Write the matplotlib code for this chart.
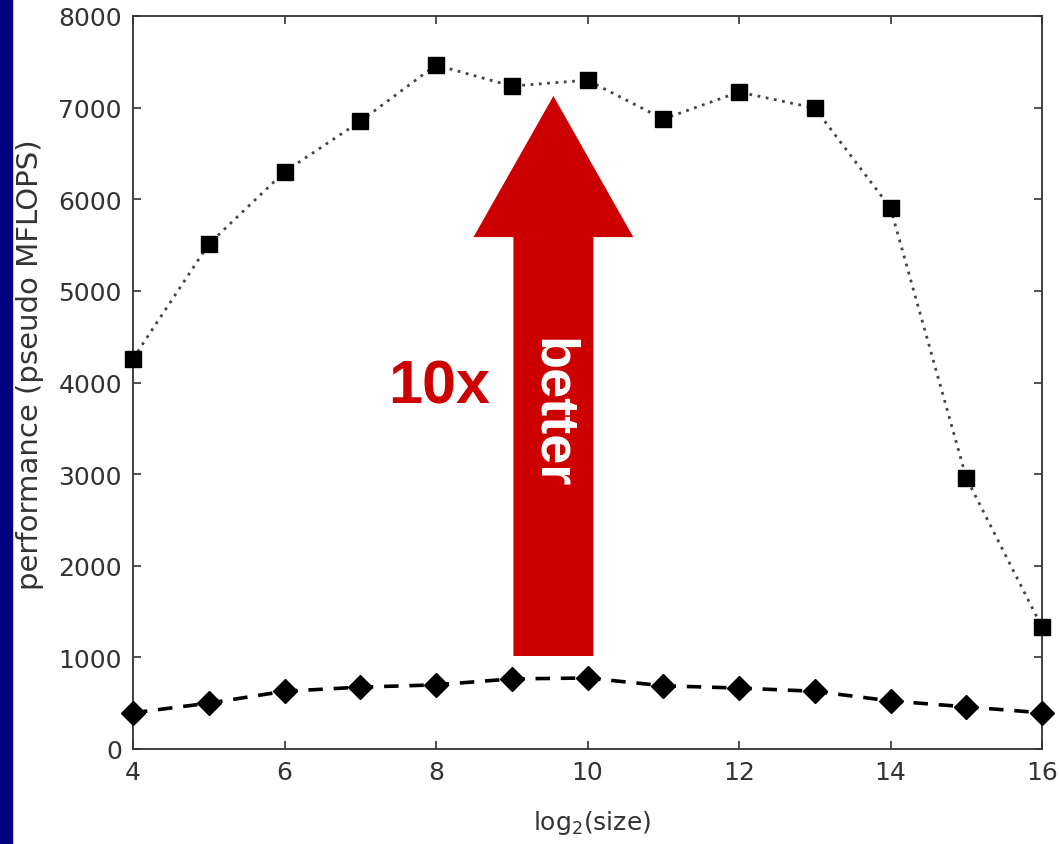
import matplotlib
matplotlib.use('Agg')
import matplotlib.pyplot as plt
from matplotlib.patches import FancyArrow, Rectangle

# log2(size) and pseudo MFLOPS
sizes = [4, 5, 6, 7, 8, 9, 10, 11, 12, 13, 14, 15, 16]
tuned = [4260, 5510, 6300, 6850, 7465, 7235, 7300, 6875, 7170, 6995, 5905, 2960, 1330]
naive = [395, 500, 630, 675, 700, 765, 775, 690, 665, 630, 525, 460, 395]

xticks = [4, 6, 8, 10, 12, 14, 16]
yticks = [0, 1000, 2000, 3000, 4000, 5000, 6000, 7000, 8000]

red = '#cc0000'

fig = plt.figure(figsize=[10.59, 8.45], dpi=100)
fig.patches.append(Rectangle((0, 0), 12 / 1059, 1, transform=fig.transFigure,
                             color='#000080', zorder=-1))
ax = fig.add_axes([133 / 1059, 1 - 750 / 845, 909 / 1059, 733 / 845])

ax.plot(sizes, tuned, color='#444444', lw=2, ls=(0, (1, 2)),
        marker='s', ms=11, mfc='black', mec='black', clip_on=False, zorder=3)
ax.plot(sizes, naive, color='black', lw=2.6, ls=(0, (4, 3)),
        marker='D', ms=12, mfc='black', mec='black', clip_on=False, zorder=3)

# big "10x better" arrow
ax.add_patch(FancyArrow(9.55, 1015, 0, 7127 - 1015, width=1.056, head_width=2.11,
                        head_length=1540, length_includes_head=True,
                        color=red, lw=0, zorder=4))
ax.text(9.53, 3680, 'better', rotation=-90, color='white', fontsize=39,
        fontweight='bold', family='Liberation Sans', ha='center', va='center', zorder=5)
ax.text(8.04, 3950, '10x', color=red, fontsize=44, fontweight='bold',
        family='Liberation Sans', ha='center', va='center', zorder=5)

ax.set_xlim(4, 16)
ax.set_ylim(0, 8000)
ax.set_xticks(xticks)
ax.set_yticks(yticks)
ax.tick_params(direction='in', length=6, width=1.2, top=True, right=True,
               labelsize=18, labelcolor='#333333', color='#333333', pad=8)
for s in ax.spines.values():
    s.set_linewidth(1.3)
    s.set_color('#333333')

ax.set_xlabel('log$_2$(size)', fontsize=18, color='#333333')
ax.set_ylabel('performance (pseudo MFLOPS)', fontsize=21, color='#333333')
ax.xaxis.set_label_coords(0.505, -0.08)
ax.yaxis.set_label_coords(-0.098, 0.525)

fig.savefig('out.png', dpi=100)
